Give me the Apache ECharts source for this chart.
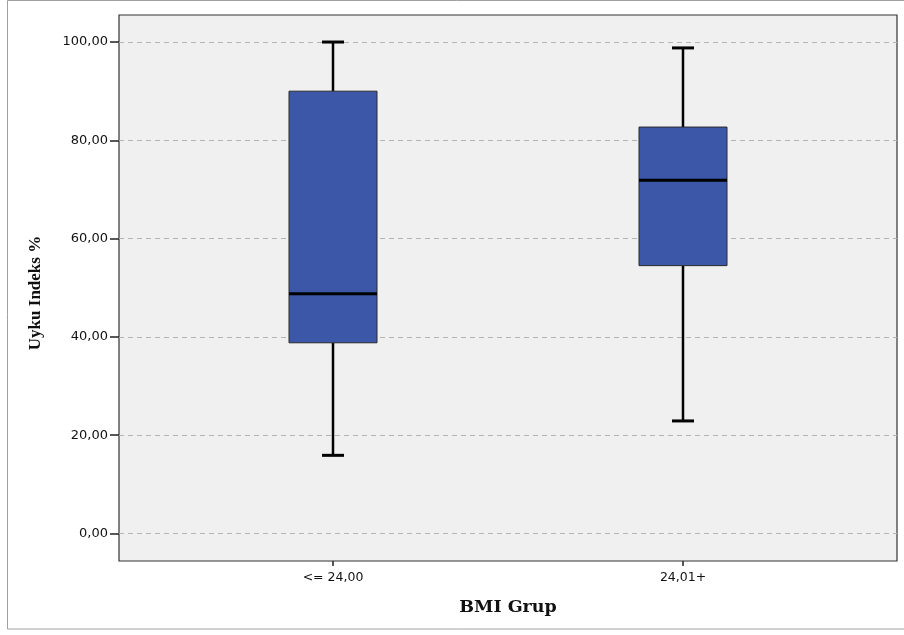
<!DOCTYPE html>
<html>
<head>
<meta charset="utf-8">
<script src="https://cdn.jsdelivr.net/npm/echarts@6/dist/echarts.min.js"></script>
<style>html,body{margin:0;padding:0;background:#fff}#c{width:904px;height:635px}</style>
</head>
<body>
<div id="c"></div>
<script>
const categories = ['<= 24,00', '24,01+'];
const categoryPos = [1, 2];
const minVals = [15.9, 22.9];
const q1Vals = [38.8, 54.5];
const medVals = [48.8, 71.9];
const q3Vals = [90.0, 82.7];
const maxVals = [100.0, 98.8];
const yTicks = [0, 20, 40, 60, 80, 100];

const BOX_W = 88;
const CAP_W = 22;

const data = categories.map((c, i) => [categoryPos[i], minVals[i], q1Vals[i], medVals[i], q3Vals[i], maxVals[i]]);

const chart = echarts.init(document.getElementById('c'), null, {renderer: 'canvas'});

function fmt(v) { return v.toFixed(2).replace('.', ','); }

chart.setOption({
  backgroundColor: '#ffffff',
  animation: false,
  graphic: [{
    type: 'rect', silent: true, z: -10,
    shape: {x: 7.5, y: 0.5, width: 910, height: 628.5},
    style: {fill: 'none', stroke: '#a0a0a0', lineWidth: 1}
  }],
  grid: {
    left: 119, top: 15, width: 778, height: 546,
    show: true, backgroundColor: '#f0f0f0', borderColor: '#333', borderWidth: 1.2
  },
  xAxis: {
    type: 'value', min: 0.3886, max: 2.6114,
    name: 'BMI Grup', nameLocation: 'middle', nameGap: 37,
    nameTextStyle: {fontFamily: 'DejaVu Serif', fontWeight: 'bold', fontSize: 17.5, color: '#111'},
    axisLine: {show: false, onZero: false},
    axisTick: {show: true, inside: false, length: 5, customValues: categoryPos, lineStyle: {color: '#222', width: 1.5}},
    axisLabel: {
      customValues: categoryPos, margin: 10,
      fontFamily: 'DejaVu Sans', fontSize: 12.5, color: '#111',
      formatter: v => categories[categoryPos.indexOf(Math.round(v))] || ''
    },
    splitLine: {show: false}
  },
  yAxis: {
    type: 'value', min: -5.6, max: 105.5,
    name: 'Uyku Indeks %', nameLocation: 'middle', nameGap: 75, nameRotate: 90,
    nameTextStyle: {fontFamily: 'Liberation Serif', fontWeight: 'bold', fontSize: 17, color: '#111', padding: [0, 10, 0, 0]},
    axisLine: {show: false, onZero: false},
    axisTick: {show: true, inside: false, length: 9, customValues: yTicks, lineStyle: {color: '#222', width: 1.5}},
    axisLabel: {
      customValues: yTicks, margin: 11,
      fontFamily: 'DejaVu Sans', fontSize: 13, color: '#111',
      formatter: v => fmt(v)
    },
    splitLine: {show: true, lineStyle: {color: '#b4b4b4', type: [5, 4], width: 1}}
  },
  series: [{
    type: 'custom',
    data: data,
    encode: {x: 0, y: [1, 2, 3, 4, 5]},
    renderItem: function (params, api) {
      const x = api.value(0);
      const pMin = api.coord([x, api.value(1)]);
      const pQ1 = api.coord([x, api.value(2)]);
      const pMed = api.coord([x, api.value(3)]);
      const pQ3 = api.coord([x, api.value(4)]);
      const pMax = api.coord([x, api.value(5)]);
      const cx = Math.round(pMed[0]);
      const h = BOX_W / 2, c = CAP_W / 2;
      const lineStyle = {stroke: '#000', lineWidth: 2.5};
      return {
        type: 'group',
        children: [
          {type: 'line', shape: {x1: cx, y1: pMax[1], x2: cx, y2: pQ3[1]}, style: lineStyle},
          {type: 'line', shape: {x1: cx, y1: pQ1[1], x2: cx, y2: pMin[1]}, style: lineStyle},
          {type: 'line', shape: {x1: cx - c, y1: pMax[1], x2: cx + c, y2: pMax[1]}, style: {stroke: '#000', lineWidth: 3}},
          {type: 'line', shape: {x1: cx - c, y1: pMin[1], x2: cx + c, y2: pMin[1]}, style: {stroke: '#000', lineWidth: 3}},
          {type: 'rect', shape: {x: cx - h, y: pQ3[1], width: BOX_W, height: pQ1[1] - pQ3[1]}, style: {fill: '#3c56a8', stroke: '#2a2a2a', lineWidth: 1}},
          {type: 'line', shape: {x1: cx - h, y1: pMed[1], x2: cx + h, y2: pMed[1]}, style: {stroke: '#000', lineWidth: 3}}
        ]
      };
    }
  }]
});
</script>
</body>
</html>
